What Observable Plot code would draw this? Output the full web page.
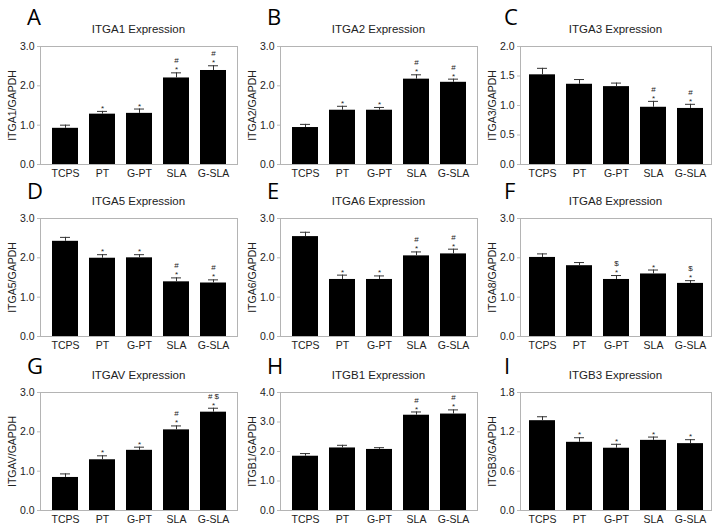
<!DOCTYPE html>
<html><head><meta charset="utf-8">
<script src="https://cdn.jsdelivr.net/npm/d3@7"></script>
<script src="https://cdn.jsdelivr.net/npm/@observablehq/plot@0.6"></script>
<style>
body{margin:0;background:#fff;}
#fig{position:relative;width:721px;height:530px;background:#fff;overflow:hidden;font-family:Arial,"Liberation Sans",sans-serif;color:#222;}
#fig svg{position:absolute;}
.letter{position:absolute;font-family:"Open Sans","DejaVu Sans",sans-serif;font-size:22px;line-height:1;color:#000;}
.title{position:absolute;font-size:11.5px;line-height:1;transform:translate(-50%,-50%);white-space:nowrap;color:#222;}
</style></head>
<body><div id="fig"></div>
<script>
const groups = ["TCPS","PT","G-PT","SLA","G-SLA"];
const letters = ["A","B","C","D","E","F","G","H","I"];
const genes = ["ITGA1","ITGA2","ITGA3","ITGA5","ITGA6","ITGA8","ITGAV","ITGB1","ITGB3"];
const yTicks = [[0,1,2,3],[0,1,2,3],[0,0.5,1,1.5,2],[0,1,2,3],[0,1,2,3],[0,1,2,3],[0,1,2,3],[0,1,2,3,4],[0,0.6,1.2,1.8]];
const means = [
  [0.92,1.28,1.30,2.20,2.39],
  [0.94,1.38,1.38,2.17,2.09],
  [1.52,1.36,1.32,0.97,0.95],
  [2.42,1.99,2.00,1.39,1.36],
  [2.54,1.45,1.45,2.05,2.10],
  [2.01,1.80,1.45,1.59,1.35],
  [0.84,1.29,1.53,2.05,2.50],
  [1.84,2.12,2.07,3.23,3.27],
  [1.37,1.04,0.95,1.07,1.02]
];
const errors = [
  [0.08,0.07,0.11,0.13,0.12],
  [0.08,0.10,0.07,0.11,0.08],
  [0.11,0.08,0.06,0.10,0.07],
  [0.10,0.09,0.08,0.10,0.08],
  [0.11,0.11,0.09,0.10,0.12],
  [0.09,0.08,0.10,0.10,0.07],
  [0.09,0.10,0.08,0.10,0.10],
  [0.09,0.09,0.06,0.11,0.14],
  [0.06,0.07,0.06,0.05,0.06]
];
const starMarks = [
  ["","*","*","*","*"],
  ["","*","*","*","*"],
  ["","","","*","*"],
  ["","*","*","*","*"],
  ["","*","*","*","*"],
  ["","","*","*","*"],
  ["","*","*","*","*"],
  ["","","","*","*"],
  ["","*","*","*","*"]
];
const topMarks = [
  ["","","","#","#"],
  ["","","","#","#"],
  ["","","","#","#"],
  ["","","","#","#"],
  ["","","","#","#"],
  ["","","$","","$"],
  ["","","","#","# $"],
  ["","","","#","#"],
  ["","","","",""]
];

const fig = document.getElementById("fig");
const rowTop = [46, 218, 392];
const plotH = 118;
const colLeft = [40, 280, 520];
const colW = [197, 197, 191];
const titleY = [30, 202, 376];
const letterX = [27, 267, 504];
const letterTop = [5, 179, 354];
const mL = 40, mR = 4, mT = 10, mB = 24;

genes.forEach((gene, i) => {
  const r = Math.floor(i / 3), c = i % 3;
  const data = groups.map((g, j) => ({
    group: g, mean: means[i][j], err: errors[i][j], lo: starMarks[i][j], hi: topMarks[i][j]
  }));
  const ticks = yTicks[i];
  const plot = Plot.plot({
    width: mL + colW[c] + mR,
    height: mT + plotH + mB,
    marginLeft: mL, marginRight: mR, marginTop: mT, marginBottom: mB,
    style: {fontFamily: "Arial, 'Liberation Sans', sans-serif", fontSize: "10.5px", color: "#222", background: "transparent", overflow: "visible"},
    x: {domain: groups, paddingInner: 0.3, paddingOuter: c === 2 ? 0.23 : 0.31},
    y: {domain: [0, ticks[ticks.length - 1]]},
    marks: [
      Plot.frame({stroke: "#b4b4b4"}),
      Plot.axisY({ticks: ticks, tickFormat: d3.format(".1f"), tickSize: 3, tickPadding: 3,
        stroke: "#bbb", fill: "#222", fontSize: 10.5, label: null}),
      Plot.text([`${gene}/GAPDH`], {frameAnchor: "left", dx: -28, rotate: -90, fontSize: 10.5, fill: "#222", textAnchor: "middle", lineAnchor: "middle"}),
      Plot.axisX({tickSize: 0, tickPadding: 5, label: null, fill: "#222", fontSize: 10.5}),
      Plot.barY(data, {x: "group", y: "mean", fill: "black"}),
      Plot.ruleX(data, {x: "group", y1: "mean", y2: d => d.mean + d.err, stroke: "#333"}),
      Plot.tickY(data, {x: "group", y: d => d.mean + d.err, stroke: "#333", insetLeft: 8, insetRight: 8}),
      Plot.text(data, {x: "group", y: d => d.mean + d.err, text: "lo", dy: -3, fontSize: 8, fill: "#222"}),
      Plot.text(data, {x: "group", y: d => d.mean + d.err, text: "hi", dy: -12, fontSize: 8, fill: "#222"})
    ]
  });
  plot.style.left = (colLeft[c] - mL) + "px";
  plot.style.top = (rowTop[r] - mT) + "px";
  fig.appendChild(plot);

  const t = document.createElement("div");
  t.className = "title";
  t.textContent = `${gene} Expression`;
  t.style.left = (colLeft[c] + colW[c] / 2) + "px";
  t.style.top = titleY[r] + "px";
  fig.appendChild(t);

  const L = document.createElement("div");
  L.className = "letter";
  L.textContent = letters[i];
  L.style.left = letterX[c] + "px";
  L.style.top = letterTop[r] + "px";
  fig.appendChild(L);
});
</script>
</body></html>
